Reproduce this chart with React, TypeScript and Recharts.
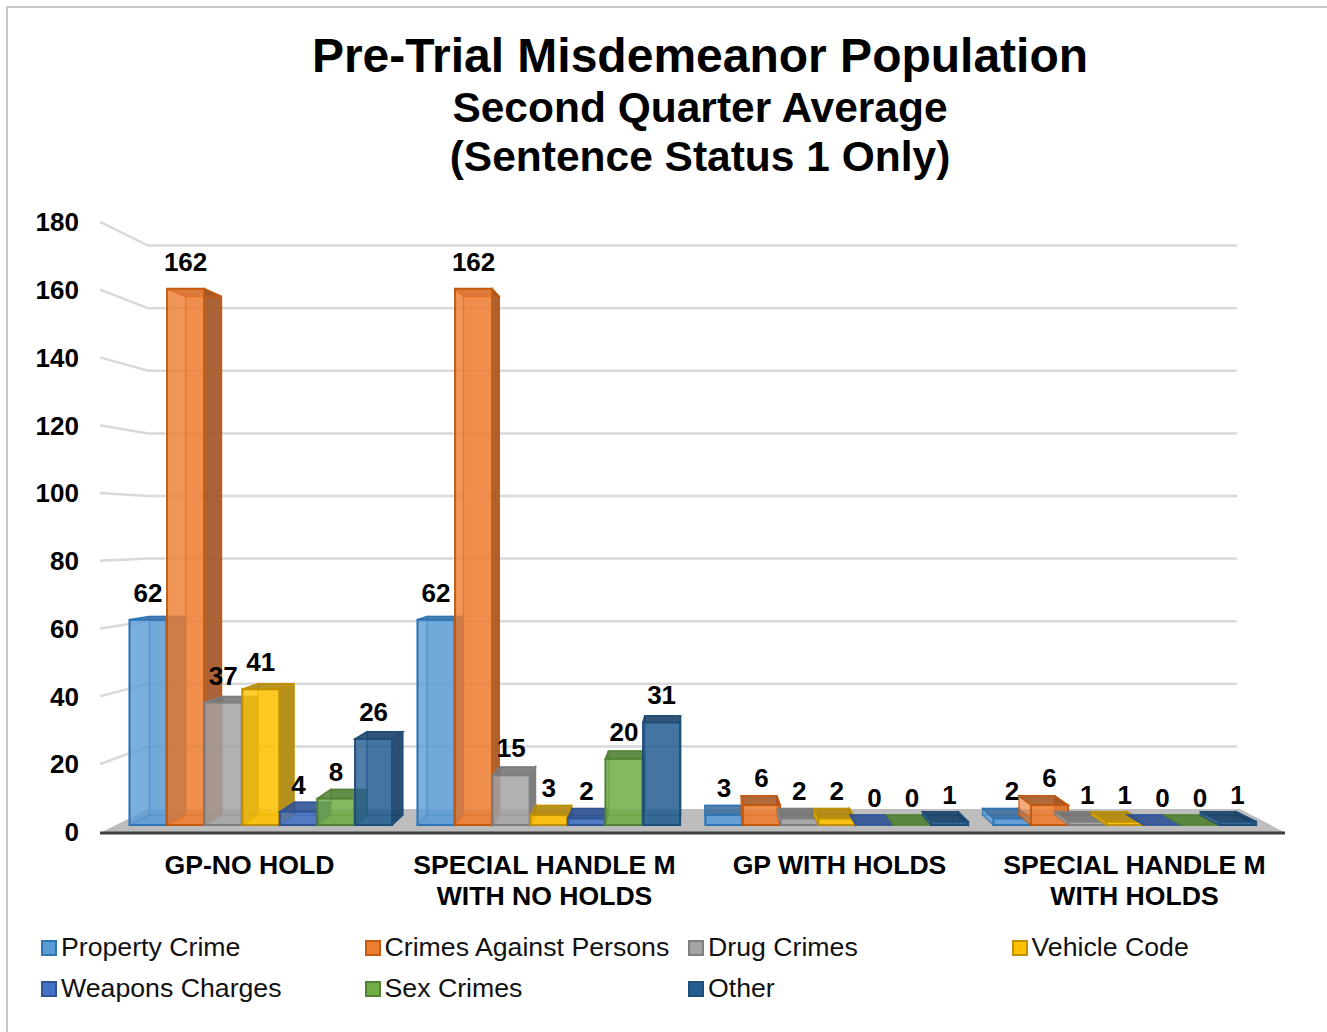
import { BarChart, Bar, XAxis, YAxis, LabelList, Legend, ReferenceLine } from "recharts";

const categories = ["GP-NO HOLD", "SPECIAL HANDLE M|WITH NO HOLDS", "GP WITH HOLDS", "SPECIAL HANDLE M|WITH HOLDS"];
const propertyCrime = [62, 62, 3, 2];
const crimesAgainstPersons = [162, 162, 6, 6];
const drugCrimes = [37, 15, 2, 1];
const vehicleCode = [41, 3, 2, 1];
const weaponsCharges = [4, 2, 0, 0];
const sexCrimes = [8, 20, 0, 0];
const other = [26, 31, 1, 1];
const yTicks = [0, 20, 40, 60, 80, 100, 120, 140, 160, 180];
const wallLines = [20, 40, 60, 80, 100, 120, 140, 160, 180];

const series = [
  { key: "property", name: "Property Crime", values: propertyCrime },
  { key: "persons", name: "Crimes Against Persons", values: crimesAgainstPersons },
  { key: "drug", name: "Drug Crimes", values: drugCrimes },
  { key: "vehicle", name: "Vehicle Code", values: vehicleCode },
  { key: "weapons", name: "Weapons Charges", values: weaponsCharges },
  { key: "sex", name: "Sex Crimes", values: sexCrimes },
  { key: "other", name: "Other", values: other },
];
const fills = ["#5b9bd5", "#ed7d31", "#a5a5a5", "#ffc000", "#4472c4", "#70ad47", "#255e91"];
const edges = ["#2e75b6", "#c55a11", "#7f7f7f", "#bf9000", "#2f5597", "#548235", "#1f4e79"];
const sides = ["#3d6d9c", "#9c5424", "#707070", "#a8820c", "#2f5090", "#4d7a32", "#193f63"];

const data = categories.map((category, i) => {
  const row: any = { category };
  series.forEach((s) => (row[s.key] = s.values[i]));
  return row;
});

const FONT = '"Liberation Sans", Arial, sans-serif';

// perspective of the fake 3D box: back face shifts towards the middle of the chart
const depthX = (x: number) => 0.0356 * (690 - x);
const depthY = (h: number) => -10 + h * 0.033;

function Box3D(props: any) {
  const { x, y, width, height, colorIndex } = props;
  const fill = fills[colorIndex];
  const edge = edges[colorIndex];
  const side = sides[colorIndex];
  const base = y + height;
  const dy = depthY(height);
  const lx = x + depthX(x);
  const rx = x + width + depthX(x + width);
  const by = y + dy;
  const fy = base - 10;
  const pts = (p: number[][]) => p.map((q) => q.join(",")).join(" ");
  return (
    <g>
      {/* back face and floor of the box */}
      <rect x={lx} y={Math.min(by, fy)} width={rx - lx} height={Math.abs(fy - by)} fill={fill} fillOpacity={0.5} stroke={edge} strokeOpacity={0.5} strokeWidth={1.5} />
      <polygon points={pts([[x, base], [x + width, base], [rx, fy], [lx, fy]])} fill={fill} fillOpacity={0.6} stroke={edge} strokeOpacity={0.5} strokeWidth={1.5} />
      {/* side away from the viewer */}
      <polygon points={pts([[x + width, y], [rx, by], [rx, fy], [x + width, base]])} fill={side} fillOpacity={0.85} stroke={edge} strokeWidth={1.5} />
      <polygon points={pts([[x, y], [lx, by], [lx, fy], [x, base]])} fill={fill} fillOpacity={0.3} stroke={edge} strokeOpacity={0.5} strokeWidth={1.5} />
      {/* lid */}
      <polygon points={pts([[x, y], [x + width, y], [rx, by], [lx, by]])} fill={side} fillOpacity={0.8} stroke={edge} strokeWidth={1.5} />
      {/* front */}
      <rect x={x} y={y} width={width} height={height} fill={fill} fillOpacity={0.72} stroke={edge} strokeWidth={2} />
    </g>
  );
}

function WallLine(props: any) {
  const { y1, value } = props;
  // the line runs along the side wall to the axis, then along the back wall
  const front = y1 + 23 - value * 0.26;
  return <polyline points={`100,${front} 148,${y1} 1237,${y1}`} fill="none" stroke="#d9d9d9" strokeWidth={2.5} />;
}

function Floor(props: any) {
  const { y1 } = props;
  return (
    <g>
      <polygon points={`102,${y1 + 23} 148,${y1} 1240,${y1} 1284,${y1 + 23}`} fill="#bdbdbd" />
      <line x1={100} x2={1285} y1={y1 + 24} y2={y1 + 24} stroke="#3f3f3f" strokeWidth={3} />
    </g>
  );
}

function CategoryTick({ x, y, payload }: any) {
  const lines = String(payload.value).split("|");
  return (
    <text x={x} y={y + 4} textAnchor="middle" fontSize={26.6} fontWeight="bold" fill="#000" fontFamily={FONT}>
      {lines.map((l, i) => (
        <tspan key={i} x={x} dy={i === 0 ? 0 : 31}>
          {l}
        </tspan>
      ))}
    </text>
  );
}

function LegendBlock() {
  return (
    <div style={{ display: "grid", gridTemplateColumns: "323.5px 323.5px 323.5px 280px", gridAutoRows: "41px", paddingLeft: 39, paddingTop: 15, fontFamily: FONT, fontSize: 26.7, color: "#111" }}>
      {series.map((s, i) => (
        <div key={s.key} style={{ display: "flex", alignItems: "center", whiteSpace: "nowrap" }}>
          <span style={{ width: 12, height: 12, background: fills[i], border: `2px solid ${edges[i]}`, marginRight: 4 }} />
          {s.name}
        </div>
      ))}
    </div>
  );
}

export default function App() {
  return (
    <div style={{ position: "absolute", left: 0, top: 0, width: 1327, height: 1032, overflow: "hidden", background: "#fff" }}>
      <div style={{ position: "absolute", left: 6, top: 6, width: 1321, height: 1026, borderLeft: "2px solid #c9c9c9", borderTop: "2px solid #c9c9c9" }} />
      <div style={{ position: "absolute", left: 0, top: 0 }}>
        <BarChart width={1327} height={1032} data={data} margin={{ top: 222, right: 45, bottom: 0, left: 2 }} barGap={0.6} barCategoryGap={12.5} style={{ fontFamily: FONT }}>
          <text x={700} y={72} textAnchor="middle" fontSize={48} fontWeight="bold" fill="#000">Pre-Trial Misdemeanor Population</text>
          <text x={700} y={122} textAnchor="middle" fontSize={42.5} fontWeight="bold" fill="#000">Second Quarter Average</text>
          <text x={700} y={171} textAnchor="middle" fontSize={42.5} fontWeight="bold" fill="#000">(Sentence Status 1 Only)</text>
          <XAxis xAxisId="labels" dataKey="category" height={80} axisLine={false} tickLine={false} tick={<CategoryTick />} interval={0} />
          <XAxis xAxisId="bars" dataKey="category" hide padding={{ left: 15, right: 13 }} />
          <YAxis yAxisId="ticks" width={100} domain={[0, 180]} allowDataOverflow ticks={yTicks} interval={0} axisLine={false} tickLine={false} tickSize={0} tickMargin={23} tick={{ fontSize: 26, fontWeight: "bold", fill: "#000" }} />
          <YAxis yAxisId="bars" hide width={0} domain={[-2.11, 182.17]} allowDataOverflow />
          <YAxis yAxisId="wall" hide width={0} domain={[-7.35, 187.54]} allowDataOverflow />
          <ReferenceLine xAxisId="labels" yAxisId="wall" y={0} ifOverflow="visible" zIndex={-50} shape={<Floor />} />
          {wallLines.map((v) => (
            <ReferenceLine key={v} xAxisId="labels" yAxisId="wall" y={v} ifOverflow="visible" zIndex={-50} shape={(p: any) => <WallLine {...p} value={v} />} />
          ))}
          {series.map((s, i) => (
            <Bar key={s.key} dataKey={s.key} name={s.name} xAxisId="bars" yAxisId="bars" fill={fills[i]} isAnimationActive={false} shape={(p: any) => <Box3D {...p} colorIndex={i} />}>
              <LabelList dataKey={s.key} position="top" offset={18} fontSize={26} fontWeight="bold" fill="#000" />
            </Bar>
          ))}
          <Legend verticalAlign="bottom" height={120} content={<LegendBlock />} />
        </BarChart>
      </div>
    </div>
  );
}
